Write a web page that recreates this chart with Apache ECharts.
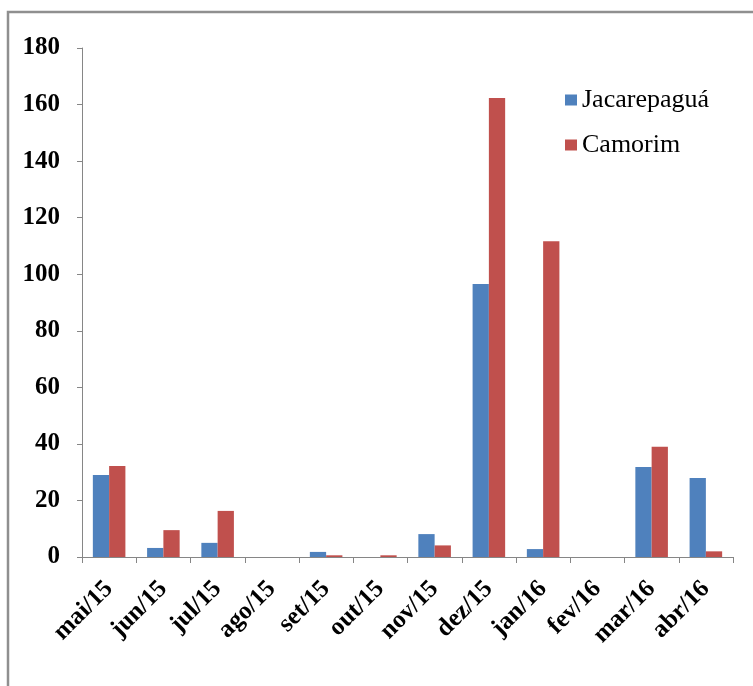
<!DOCTYPE html>
<html>
<head>
<meta charset="utf-8">
<script src="https://cdn.jsdelivr.net/npm/echarts@6/dist/echarts.min.js"></script>
<style>
  html, body { margin: 0; padding: 0; background: #fff; }
  #chart { width: 753px; height: 686px; }
</style>
</head>
<body>
<div id="chart"></div>
<script>
// dados
const months = ['mai/15', 'jun/15', 'jul/15', 'ago/15', 'set/15', 'out/15', 'nov/15', 'dez/15', 'jan/16', 'fev/16', 'mar/16', 'abr/16'];
const jacarepagua = [29, 3.2, 5, 0, 1.8, 0, 8.1, 96.5, 2.8, 0, 31.8, 27.9];
const camorim = [32.2, 9.5, 16.3, 0, 0.6, 0.6, 4.1, 162.3, 111.7, 0, 39, 2];

const chart = echarts.init(document.getElementById('chart'));
const serif = '"Liberation Serif", "Times New Roman", serif';

const option = {
    animation: false,
    graphic: [
        {
            type: 'rect',
            shape: { x: 8, y: 12, width: 900, height: 900 },
            style: { fill: 'none', stroke: '#8f8f8f', lineWidth: 2.5 }
        }
    ],
    grid: { left: 82, right: 20, top: 48, bottom: 129 },
    legend: {
        orient: 'vertical',
        left: 565,
        top: 87,
        padding: 0,
        itemWidth: 12,
        itemHeight: 11,
        itemGap: 19,
        icon: 'rect',
        textStyle: { fontFamily: serif, fontSize: 26, color: '#000' },
        data: ['Jacarepaguá', 'Camorim']
    },
    xAxis: {
        type: 'category',
        data: months,
        axisLine: { lineStyle: { color: '#868686', width: 1 } },
        axisTick: { show: true, length: 6, lineStyle: { color: '#868686' } },
        axisLabel: {
            rotate: 45,
            interval: 0,
            margin: 28,
            fontFamily: serif,
            fontWeight: 'bold',
            fontSize: 25,
            color: '#000'
        }
    },
    yAxis: {
        type: 'value',
        min: 0,
        max: 180,
        interval: 20,
        splitLine: { show: false },
        axisLine: { show: true, lineStyle: { color: '#868686', width: 1 } },
        axisTick: { show: true, length: 5, lineStyle: { color: '#868686' } },
        axisLabel: {
            margin: 22,
            fontFamily: serif,
            fontWeight: 'bold',
            fontSize: 25,
            color: '#000'
        }
    },
    series: [
        {
            name: 'Jacarepaguá',
            type: 'bar',
            data: jacarepagua,
            barGap: '0%',
            barCategoryGap: '40%',
            itemStyle: { color: '#4F81BD' }
        },
        {
            name: 'Camorim',
            type: 'bar',
            data: camorim,
            itemStyle: { color: '#C0504D' }
        }
    ]
};

chart.setOption(option);
</script>
</body>
</html>
